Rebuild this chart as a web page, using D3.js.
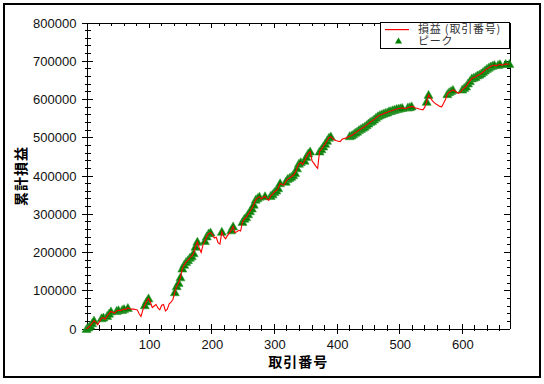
<!DOCTYPE html>
<html><head><meta charset="utf-8">
<script src="https://cdn.jsdelivr.net/npm/d3@7"></script>
<style>body{margin:0;background:#fff}svg{display:block}</style>
</head><body>
<svg id="chart" width="544" height="384"></svg>
<script>
// ---- data ----
const tradeStep = 3; // cumulative profit read every 3 trades, starting at trade 0
const unitYen = 1000; // values below are in thousands of yen
const cumulativeProfitK = [
  0, 4, 9, 15, 22, 17, 11, 20, 28, 30,
  26, 34, 40, 46, 44, 41, 47, 49, 48, 50,
  52, 51, 55, 53, 52, 52, 51, 50, 40, 33,
  50, 62, 72, 80, 70, 56, 60, 64, 55, 50,
  62, 64, 47, 52, 66, 70, 78, 96, 112, 120,
  135, 158, 168, 175, 180, 186, 190, 198, 215, 228,
  212, 200, 220, 230, 242, 250, 252, 247, 238, 240,
  226, 222, 254, 242, 236, 244, 250, 258, 268, 252,
  254, 258, 256, 280, 288, 292, 300, 308, 315, 325,
  338, 342, 346, 340, 344, 347, 340, 336, 348, 352,
  358, 362, 368, 381, 378, 376, 385, 392, 395, 398,
  402, 408, 420, 432, 436, 430, 440, 450, 459, 464,
  440, 433, 426, 420, 464, 470, 477, 484, 492, 500,
  503, 498, 494, 492, 491, 490, 496, 498, 499, 502,
  504, 506, 509, 513, 516, 520, 523, 526, 529, 533,
  537, 541, 544, 548, 552, 556, 559, 561, 563, 565,
  566, 569, 570, 572, 573, 575, 576, 577, 578, 577,
  576, 579, 580, 582, 581, 578, 577, 575, 574, 573,
  580, 594, 612, 604, 597, 592, 588, 585, 582, 581,
  590, 600, 614, 619, 622, 625, 622, 619, 616, 620,
  626, 630, 634, 642, 648, 655, 657, 659, 663, 665,
  668, 672, 676, 680, 683, 686, 688, 690, 688, 690,
  692, 690, 691, 693, 692, 693
];
const xTickValues = [100, 200, 300, 400, 500, 600];
const yTickValues = [0, 100000, 200000, 300000, 400000, 500000, 600000, 700000, 800000];
const seriesNames = ["損益 (取引番号)", "ピーク"];
const xTitle = "取引番号";
const yTitle = "累計損益";

// ---- derived ----
const points = cumulativeProfitK.map((v, i) => ({trade: i * tradeStep, value: v * unitYen}));
let runMax = -Infinity;
const peaks = points.filter(p => { if (p.value >= runMax) { runMax = p.value; return true; } return false; });

// ---- layout ----
const svg = d3.select("#chart");
const L = 86.5, R = 510, T = 23, B = 329;
const x = d3.scaleLinear().domain([0, 676]).range([L, R]);
const y = d3.scaleLinear().domain([0, 800000]).range([B, T]);
const font = "'Liberation Sans', Arial, sans-serif";
const cjk = "'Noto Sans CJK JP', sans-serif";

// outer frame
svg.append("rect").attr("x", 4).attr("y", 4).attr("width", 536).attr("height", 373)
  .attr("fill", "#fff").attr("stroke", "#000").attr("stroke-width", 2);

// plot frame lines
const frame = svg.append("g").attr("stroke", "#000").attr("stroke-width", 1).attr("shape-rendering", "crispEdges");
frame.append("line").attr("x1", L).attr("x2", R).attr("y1", T).attr("y2", T);
frame.append("line").attr("x1", R).attr("x2", R).attr("y1", T).attr("y2", B);

const xMinor = d3.range(20, 676, 20).filter(v => v % 100 !== 0);
const yMinor = d3.range(20000, 800001, 20000).filter(v => v % 100000 !== 0);
const tk = svg.append("g").attr("stroke", "#000").attr("stroke-width", 1).attr("shape-rendering", "crispEdges");
// left axis ticks (crossing)
tk.selectAll(null).data(yTickValues).join("line")
  .attr("x1", L - 5).attr("x2", L + 6).attr("y1", d => y(d)).attr("y2", d => y(d));
tk.selectAll(null).data(yMinor).join("line")
  .attr("x1", L - 2).attr("x2", L + 4).attr("y1", d => y(d)).attr("y2", d => y(d));
// right axis ticks (inward)
tk.selectAll(null).data(yTickValues).join("line")
  .attr("x1", R - 6).attr("x2", R).attr("y1", d => y(d)).attr("y2", d => y(d));
tk.selectAll(null).data(yMinor).join("line")
  .attr("x1", R - 3).attr("x2", R).attr("y1", d => y(d)).attr("y2", d => y(d));
// bottom axis ticks (crossing)
tk.selectAll(null).data(xTickValues).join("line")
  .attr("x1", d => x(d)).attr("x2", d => x(d)).attr("y1", B - 5).attr("y2", B + 5);
tk.selectAll(null).data(xMinor).join("line")
  .attr("x1", d => x(d)).attr("x2", d => x(d)).attr("y1", B - 4).attr("y2", B + 2);
// top axis ticks (hanging)
tk.selectAll(null).data(xTickValues).join("line")
  .attr("x1", d => x(d)).attr("x2", d => x(d)).attr("y1", T).attr("y2", T + 5);
tk.selectAll(null).data(xMinor).join("line")
  .attr("x1", d => x(d)).attr("x2", d => x(d)).attr("y1", T).attr("y2", T + 3);

// axes with labels
const yAxis = svg.append("g").attr("transform", `translate(${L},0)`)
  .call(d3.axisLeft(y).tickValues(yTickValues).tickSize(0).tickPadding(10).tickFormat(d3.format("d")));
const xAxis = svg.append("g").attr("transform", `translate(0,${B})`)
  .call(d3.axisBottom(x).tickValues(xTickValues).tickSize(0).tickPadding(11).tickFormat(d3.format("d")));
[yAxis, xAxis].forEach(a => {
  a.select(".domain").attr("stroke", "#000").attr("shape-rendering", "crispEdges");
  a.selectAll("text").attr("font-family", font).attr("font-size", 13).attr("fill", "#111");
});
xAxis.select(".domain").attr("d", `M${L - 5},0H${R}`);

// peak markers
const tri = "M0,-4.5L4.5,3.5L-4.5,3.5Z";
svg.append("g").selectAll("path").data(peaks).join("path")
  .attr("d", tri).attr("transform", d => `translate(${x(d.trade)},${y(d.value)})`)
  .attr("fill", "#008000").attr("stroke", "#3a9a3a").attr("stroke-width", 0.6);

// cumulative profit line
svg.append("path").datum(points)
  .attr("d", d3.line().x(d => x(d.trade)).y(d => y(d.value)))
  .attr("fill", "none").attr("stroke", "#ff0000").attr("stroke-width", 1.1);

// axis titles
svg.append("text").attr("x", (L + R) / 2).attr("y", 367).attr("text-anchor", "middle")
  .attr("font-family", cjk).attr("font-weight", "bold").attr("font-size", 14)
  .attr("letter-spacing", 1).attr("fill", "#000").text(xTitle);
svg.append("text").attr("transform", `translate(26,${(T + B) / 2}) rotate(-90)`)
  .attr("text-anchor", "middle")
  .attr("font-family", cjk).attr("font-weight", "bold").attr("font-size", 14)
  .attr("letter-spacing", 1).attr("fill", "#000").text(yTitle);

// legend
svg.append("clipPath").attr("id", "lgclip").append("rect")
  .attr("x", 380.5).attr("y", 22.5).attr("width", 129).attr("height", 25.5);
const lg = svg.append("g");
lg.append("rect").attr("x", 380.5).attr("y", 22.5).attr("width", 129).attr("height", 25.5)
  .attr("fill", "#fff").attr("stroke", "#000").attr("stroke-width", 1).attr("shape-rendering", "crispEdges");
lg.append("rect").attr("x", 385).attr("y", 29).attr("width", 24).attr("height", 1.2)
  .attr("fill", "#ff0000");
lg.append("path").attr("d", "M0,-3.5L3.5,2.5L-3.5,2.5Z").attr("transform", "translate(398.5,41)").attr("fill", "#008000");
lg.append("g").attr("clip-path", "url(#lgclip)").selectAll("text").data(seriesNames).join("text")
  .attr("x", 418).attr("y", (d, i) => 32.5 + i * 12)
  .attr("font-family", cjk).attr("font-size", 11).attr("letter-spacing", 0.8).attr("fill", "#333")
  .text(d => d);
</script>
</body></html>
